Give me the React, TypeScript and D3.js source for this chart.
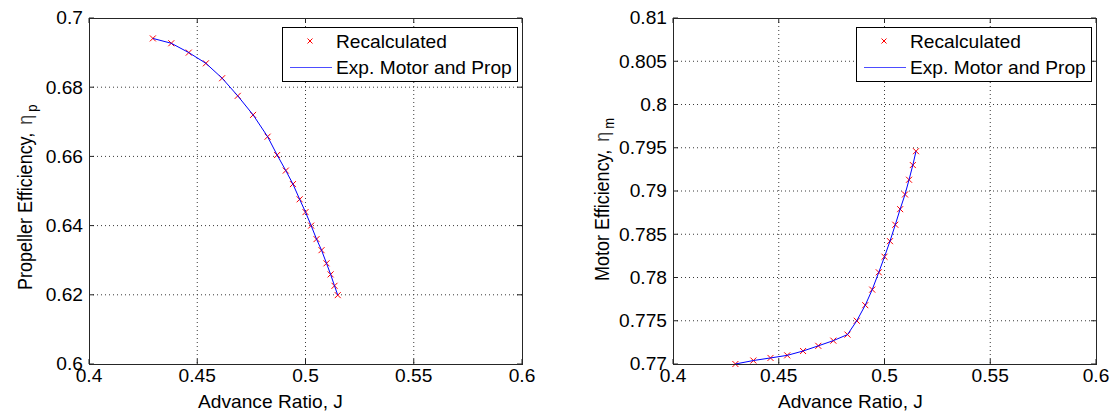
import React from 'react';
import * as d3 from 'd3';

// Advance ratio J (shared by both panels)
const advanceRatio = [0.4295, 0.4380, 0.4461, 0.4540, 0.4615, 0.4687, 0.4758, 0.4825, 0.4869, 0.4909,
  0.4942, 0.4973, 0.5000, 0.5026, 0.5051, 0.5074, 0.5097, 0.5116, 0.5134, 0.5149];
// Propeller efficiency
const propEff = [0.6941, 0.6927, 0.6900, 0.6869, 0.6826, 0.6775, 0.6720, 0.6657, 0.6604, 0.6559,
  0.6520, 0.6476, 0.6439, 0.6400, 0.6361, 0.6329, 0.6291, 0.6259, 0.6226, 0.6199];
// Motor efficiency
const motorEff = [0.7700, 0.7704, 0.7707, 0.7710, 0.7715, 0.7721, 0.7727, 0.7734, 0.7750, 0.7768,
  0.7786, 0.7806, 0.7824, 0.7842, 0.7861, 0.7879, 0.7896, 0.7913, 0.7930, 0.7946];

const xTicks = [0.4, 0.45, 0.5, 0.55, 0.6];
const xTickLabels = ['0.4', '0.45', '0.5', '0.55', '0.6'];
const propTicks = [0.6, 0.62, 0.64, 0.66, 0.68, 0.7];
const propTickLabels = ['0.6', '0.62', '0.64', '0.66', '0.68', '0.7'];
const motorTicks = [0.77, 0.775, 0.78, 0.785, 0.79, 0.795, 0.8, 0.805, 0.81];
const motorTickLabels = ['0.77', '0.775', '0.78', '0.785', '0.79', '0.795', '0.8', '0.805', '0.81'];
const legendLabels = ['Recalculated', 'Exp. Motor and Prop'];
const xAxisLabel = 'Advance Ratio, ';
const xAxisSymbol = 'J';

const FONT = '"Liberation Sans", Arial, Helvetica, sans-serif';
const FS = 17.6;
const SX = 1.09;

type TProps = { x: number; y: number; anchor?: 'start' | 'middle' | 'end'; children: React.ReactNode };
function T({ x, y, anchor = 'start', children }: TProps) {
  return (
    <text transform={`translate(${x},${y}) scale(${SX},1)`} textAnchor={anchor}
      fontFamily={FONT} fontSize={FS} fill="#000">{children}</text>
  );
}

type PanelProps = {
  left: number; right: number; top: number; bottom: number;
  yDomain: [number, number]; yTicks: number[]; yTickLabels: string[];
  yValues: number[]; yLabel: string; ySub: string; yLabelX: number; yLabelBottom: number; xLabelX: number;
};

function Panel(p: PanelProps) {
  const x = d3.scaleLinear().domain([0.4, 0.6]).range([p.left, p.right]);
  const y = d3.scaleLinear().domain(p.yDomain).range([p.bottom, p.top]);
  const pts = advanceRatio.map((j, i) => [j, p.yValues[i]] as [number, number]);
  const line = d3.line<[number, number]>().x(d => x(d[0])).y(d => y(d[1]));
  const tickLen = 5;
  const gridColor = '#3a3a3a';
  const m = 3;
  const lgLeft = p.right - 240;
  const lgTop = 27;
  return (
    <g>
      <rect x={p.left} y={p.top} width={p.right - p.left} height={p.bottom - p.top} fill="#fff" />
      {/* grid */}
      {xTicks.slice(1, -1).map((t, i) => (
        <line key={'gx' + i} x1={x(t)} x2={x(t)} y1={p.top} y2={p.bottom}
          stroke={gridColor} strokeWidth={1} strokeDasharray="1 3" />
      ))}
      {p.yTicks.slice(1, -1).map((t, i) => (
        <line key={'gy' + i} x1={p.left} x2={p.right} y1={y(t)} y2={y(t)}
          stroke={gridColor} strokeWidth={1} strokeDasharray="1 3" />
      ))}
      {/* ticks */}
      {xTicks.map((t, i) => (
        <g key={'tx' + i}>
          <line x1={x(t)} x2={x(t)} y1={p.bottom} y2={p.bottom - tickLen} stroke="#222" />
          <line x1={x(t)} x2={x(t)} y1={p.top} y2={p.top + tickLen} stroke="#222" />
        </g>
      ))}
      {p.yTicks.map((t, i) => (
        <g key={'ty' + i}>
          <line x1={p.left} x2={p.left + tickLen} y1={y(t)} y2={y(t)} stroke="#222" />
          <line x1={p.right} x2={p.right - tickLen} y1={y(t)} y2={y(t)} stroke="#222" />
        </g>
      ))}
      {/* data: markers then line */}
      {pts.map((d, i) => (
        <path key={'mk' + i} transform={`translate(${x(d[0])},${y(d[1])})`}
          d={`M${-m},${-m}L${m},${m}M${-m},${m}L${m},${-m}`} stroke="#ff0000" strokeWidth={1} fill="none" />
      ))}
      <path d={line(pts) || ''} fill="none" stroke="#0000ff" strokeWidth={1} />
      {/* box */}
      <rect x={p.left + 0.5} y={p.top + 0.5} width={p.right - p.left} height={p.bottom - p.top}
        fill="none" stroke="#262626" strokeWidth={1} />
      {/* tick labels */}
      {xTicks.map((t, i) => (
        <T key={'lx' + i} x={x(t)} y={p.bottom + 17.5} anchor="middle">{xTickLabels[i]}</T>
      ))}
      {p.yTicks.map((t, i) => (
        <T key={'ly' + i} x={p.left - 6} y={y(t) + 6.3} anchor="end">{p.yTickLabels[i]}</T>
      ))}
      {/* axis labels */}
      <T x={p.xLabelX} y={408}>{xAxisLabel}<tspan>{xAxisSymbol}</tspan></T>
      <text transform={`translate(${p.yLabelX},${p.yLabelBottom}) rotate(-90) scale(1,${SX})`}
        textAnchor="start" fontFamily={FONT} fontSize={18} fill="#000">
        {p.yLabel}<tspan fill="#444" dx={3}>η</tspan><tspan fontSize={13} dx={3} dy={5}>{p.ySub}</tspan>
      </text>
      {/* legend */}
      <rect x={lgLeft + 0.5} y={lgTop + 0.5} width={235} height={54} fill="#fff" stroke="#000" strokeWidth={1} />
      <path transform={`translate(${lgLeft + 28},${lgTop + 14})`}
        d="M-2.5,-2.5L2.5,2.5M-2.5,2.5L2.5,-2.5" stroke="#ff0000" strokeWidth={1} fill="none" />
      <line x1={lgLeft + 8} x2={lgLeft + 50} y1={lgTop + 40.5} y2={lgTop + 40.5} stroke="#4d4dff" strokeWidth={1} />
      <T x={lgLeft + 54} y={lgTop + 21}>{legendLabels[0]}</T>
      <T x={lgLeft + 54} y={lgTop + 47}>{legendLabels[1]}</T>
    </g>
  );
}

export default function App() {
  return (
    <svg width={1112} height={415} style={{ position: 'absolute', left: 0, top: 0, background: '#fff' }}>
      <rect width={1112} height={415} fill="#fff" />
      <Panel left={89} right={522} top={18} bottom={364} yDomain={[0.6, 0.7]}
        yTicks={propTicks} yTickLabels={propTickLabels} yValues={propEff}
        yLabel="Propeller Efficiency, " ySub="p" yLabelX={32} yLabelBottom={290} xLabelX={198} />
      <Panel left={673} right={1096} top={18} bottom={364} yDomain={[0.77, 0.81]}
        yTicks={motorTicks} yTickLabels={motorTickLabels} yValues={motorEff}
        yLabel="Motor Efficiency, " ySub="m" yLabelX={609} yLabelBottom={281} xLabelX={778} />
    </svg>
  );
}
